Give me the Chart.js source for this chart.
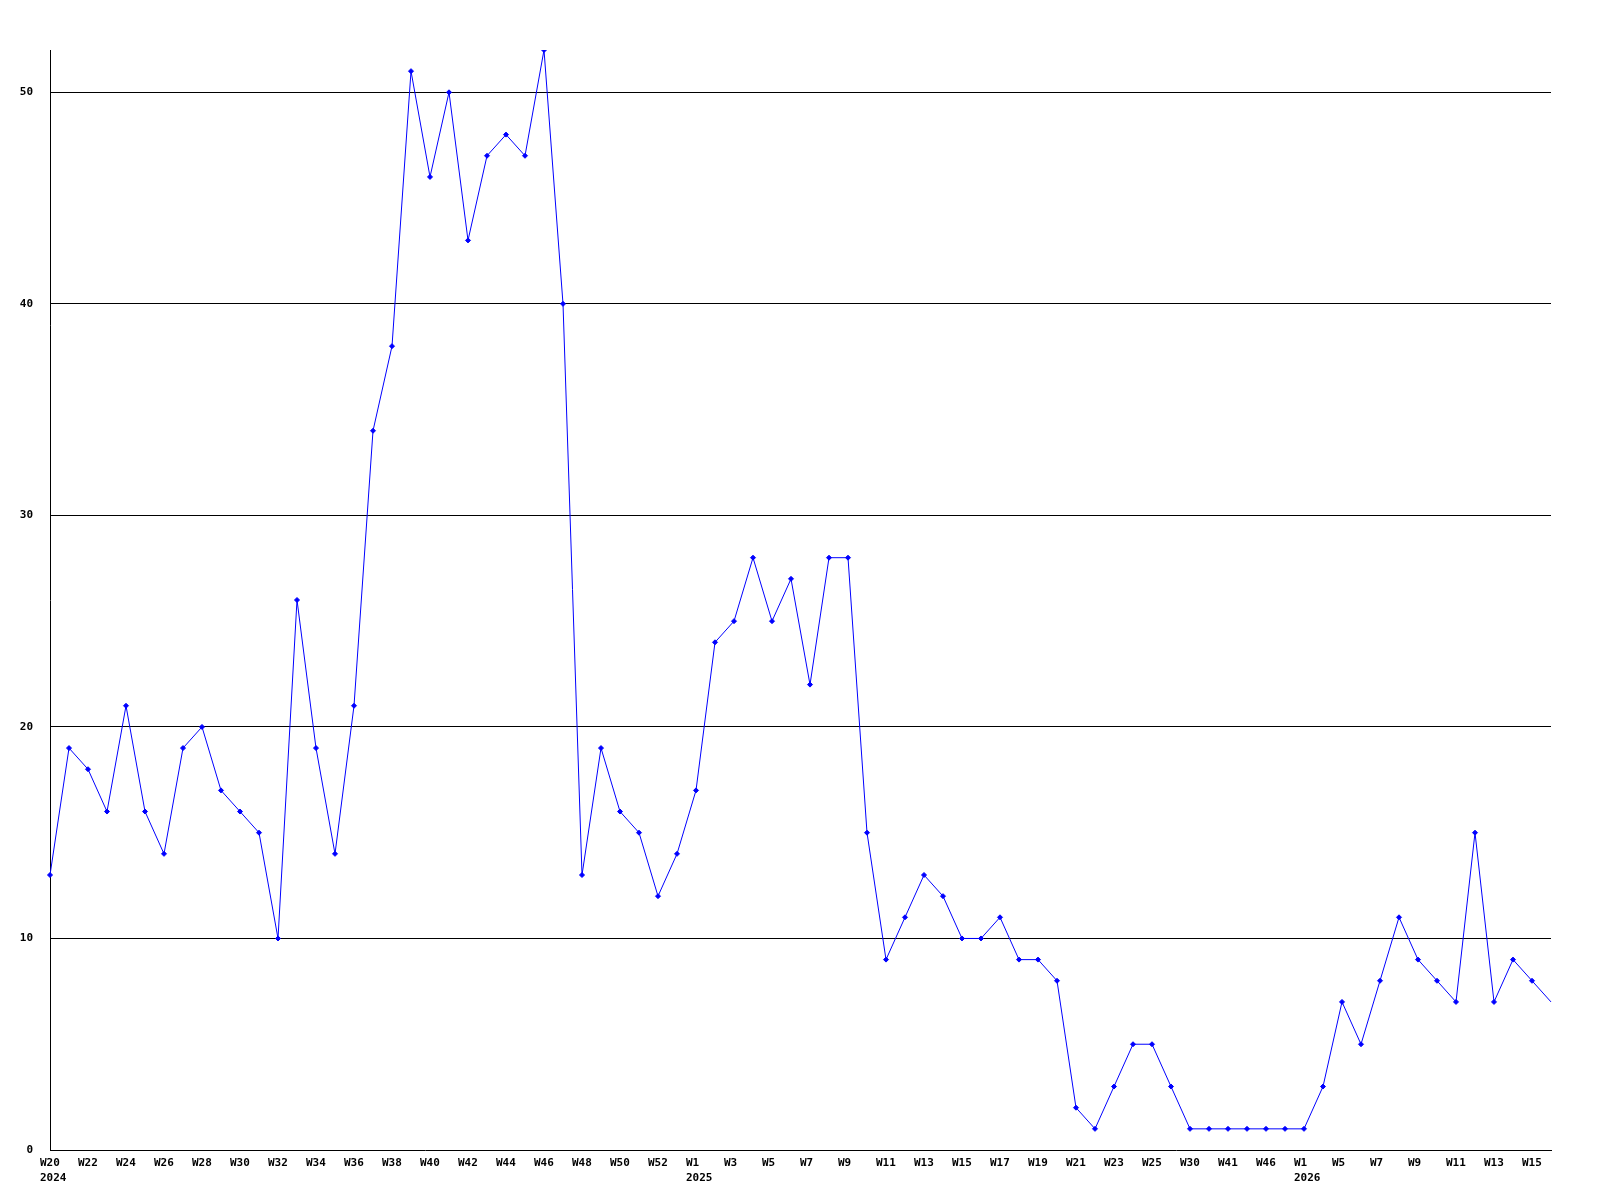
<!DOCTYPE html>
<html>
<head>
<meta charset="utf-8">
<script src="https://cdn.jsdelivr.net/npm/chart.js@4"></script>
<style>
  body { margin: 0; background: #fff; }
  #wrap { width: 1600px; height: 1200px; }
</style>
</head>
<body>
<div id="wrap"><canvas id="chart" width="1600" height="1200"></canvas></div>
<script>
// week labels (one per data point)
const weeks = [
  'W20','W21','W22','W23','W24','W25','W26','W27','W28','W29','W30','W31','W32','W33','W34','W35','W36',
  'W37','W38','W39','W40','W41','W42','W43','W44','W45','W46','W47','W48','W49','W50','W51','W52','W53',
  'W1','W2','W3','W4','W5','W6','W7','W8','W9','W10','W11','W12','W13','W14','W15','W16','W17','W18',
  'W19','W20','W21','W22','W23','W24','W25','W27','W30','W35','W41','W44','W46','W50',
  'W1','W3','W5','W6','W7','W8','W9','W10','W11','W12','W13','W14','W15','W16'
];
const counts = [
  13,19,18,16,21,16,14,19,20,17,
  16,15,10,26,19,14,21,34,38,51,
  46,50,43,47,48,47,52,40,13,19,
  16,15,12,14,17,24,25,28,25,27,
  22,28,28,15,9,11,13,12,10,10,
  11,9,9,8,2,1,3,5,5,3,
  1,1,1,1,1,1,1,3,7,5,
  8,11,9,8,7,15,7,9,8,7
];
const years = ['2024', '2025', '2026'];
const yearStart = [0, 34, 66]; // index in weeks where each year begins
const yTicks = [0, 10, 20, 30, 40, 50];

const tickFont = { family: 'DejaVu Sans Mono', size: 11, weight: 'bold', lineHeight: 1.35 };

const ctx = document.getElementById('chart');
new Chart(ctx, {
  type: 'line',
  data: {
    labels: weeks,
    datasets: [{
      data: counts,
      borderColor: '#0000ff',
      backgroundColor: '#0000ff',
      borderWidth: 1,
      tension: 0,
      fill: false,
      pointStyle: 'rectRot',
      pointRadius: counts.map((v, i) => i === counts.length - 1 ? 0 : 2.5),
      pointBorderWidth: 1,
      pointBorderColor: '#0000ff',
      pointBackgroundColor: '#0000ff'
    }]
  },
  options: {
    responsive: false,
    animation: false,
    layout: { padding: { top: 50, right: 49, left: 0, bottom: 0 } },
    plugins: { legend: { display: false }, tooltip: { enabled: false } },
    scales: {
      x: {
        grid: { display: true, drawOnChartArea: false, drawTicks: false },
        border: { display: true, color: '#000', width: 1 },
        afterFit: s => { s.height = 50; },
        ticks: {
          autoSkip: false,
          maxRotation: 0,
          minRotation: 0,
          align: 'start',
          labelOffset: -10,
          padding: 6,
          color: '#000',
          font: tickFont,
          callback: function (val, i) {
            if (i % 2 !== 0) return '';
            const y = yearStart.indexOf(i);
            return y >= 0 ? [weeks[i], years[y]] : weeks[i];
          }
        }
      },
      y: {
        min: 0,
        max: 52,
        afterFit: s => { s.width = 50; },
        afterBuildTicks: s => { s.ticks = yTicks.map(v => ({ value: v })); },
        grid: {
          drawTicks: false,
          color: c => c.tick && c.tick.value === 0 ? 'rgba(0,0,0,0)' : '#000',
          lineWidth: 1
        },
        border: { display: true, color: '#000', width: 1 },
        ticks: {
          padding: 17,
          color: '#000',
          font: tickFont
        }
      }
    }
  }
});
</script>
</body>
</html>
